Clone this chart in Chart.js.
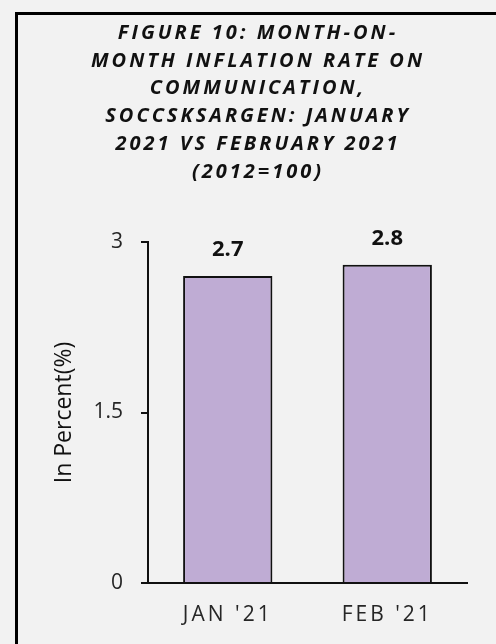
<!DOCTYPE html>
<html>
<head>
<meta charset="utf-8">
<script src="https://cdn.jsdelivr.net/npm/chart.js@4/dist/chart.umd.min.js"></script>
<style>
  html, body { margin: 0; padding: 0; background: #f2f2f2; }
  #wrap { position: relative; width: 496px; height: 644px; }
</style>
</head>
<body>
<div id="wrap"><canvas id="myBarChart"></canvas></div>
<script>
// Datos del gráfico
var categorias = ["JAN '21", "FEB '21"];
var inflacion = [2.7, 2.8];
var ticksEjeY = [0, 1.5, 3];
var tituloLineas = [
  "FIGURE 10: MONTH-ON-",
  "MONTH INFLATION RATE ON",
  "COMMUNICATION,",
  "SOCCSKSARGEN: JANUARY",
  "2021 VS FEBRUARY 2021",
  "(2012=100)"
];
var tituloEjeY = "In Percent(%)";

var fuente = "'Open Sans', 'Noto Sans', sans-serif";

// Plugin: marco, etiquetas de valor y título con espaciado de letras
var extras = {
  id: 'extras',
  beforeDraw: function(chart) {
    var ctx = chart.ctx;
    ctx.letterSpacing = '0px';
    ctx.save();
    ctx.strokeStyle = '#000';
    ctx.lineWidth = 3;
    ctx.strokeRect(16.5, 13.5, 700, 800);
    ctx.restore();
  },
  afterDatasetsDraw: function(chart) {
    var ctx = chart.ctx;
    var meta = chart.getDatasetMeta(0);
    ctx.save();
    ctx.letterSpacing = '0px';
    ctx.font = "bold 22px " + fuente;
    ctx.fillStyle = '#111';
    ctx.textAlign = 'center';
    ctx.textBaseline = 'bottom';
    meta.data.forEach(function(bar, i) {
      ctx.fillText(String(inflacion[i]), bar.x, bar.y - 15);
    });
    ctx.restore();
    // las etiquetas del eje X (z: 1) se dibujan después, espaciadas
    ctx.letterSpacing = '3px';
  },
  afterDraw: function(chart) {
    var ctx = chart.ctx;
    ctx.letterSpacing = '0px';
    ctx.save();
    ctx.letterSpacing = '3px';
    ctx.font = "italic bold 20px " + fuente;
    ctx.fillStyle = '#111';
    ctx.textAlign = 'center';
    ctx.textBaseline = 'middle';
    tituloLineas.forEach(function(linea, i) {
      ctx.fillText(linea, 258, 33 + i * 27.8);
    });
    ctx.restore();
  }
};

var ctx = document.getElementById("myBarChart");

var myBarChart = new Chart(ctx, {
  type: 'bar',
  data: {
    labels: categorias,
    datasets: [{
      data: inflacion,
      backgroundColor: '#bfacd4',
      borderColor: '#111',
      borderWidth: 2,
      barPercentage: 0.56,
      categoryPercentage: 1
    }]
  },
  plugins: [extras],
  options: {
    responsive: true,
    maintainAspectRatio: false,
    animation: false,
    layout: {
      padding: { top: 242, right: 29, bottom: 0, left: 0 }
    },
    plugins: {
      legend: { display: false },
      tooltip: { enabled: false }
    },
    scales: {
      x: {
        afterFit: function(scale) { scale.height = 61; },
        grid: { display: false, drawTicks: false },
        border: { display: true, color: '#111', width: 2 },
        ticks: {
          z: 1,
          padding: 19,
          color: '#262626',
          font: { family: fuente, size: 21 }
        }
      },
      y: {
        min: 0,
        max: 3,
        afterFit: function(scale) { scale.width = 148; },
        afterBuildTicks: function(scale) {
          scale.ticks = ticksEjeY.map(function(v) { return { value: v }; });
        },
        grid: {
          drawOnChartArea: false,
          drawTicks: true,
          tickLength: 7,
          color: '#111',
          lineWidth: 2
        },
        border: { display: true, color: '#111', width: 2 },
        ticks: {
          padding: 18,
          color: '#262626',
          font: { family: fuente, size: 21 },
          callback: function(value) { return String(value); }
        },
        title: {
          display: true,
          text: tituloEjeY,
          color: '#111',
          font: { family: fuente, size: 23 },
          padding: { top: 51, bottom: 0 }
        }
      }
    }
  }
});
</script>
</body>
</html>
